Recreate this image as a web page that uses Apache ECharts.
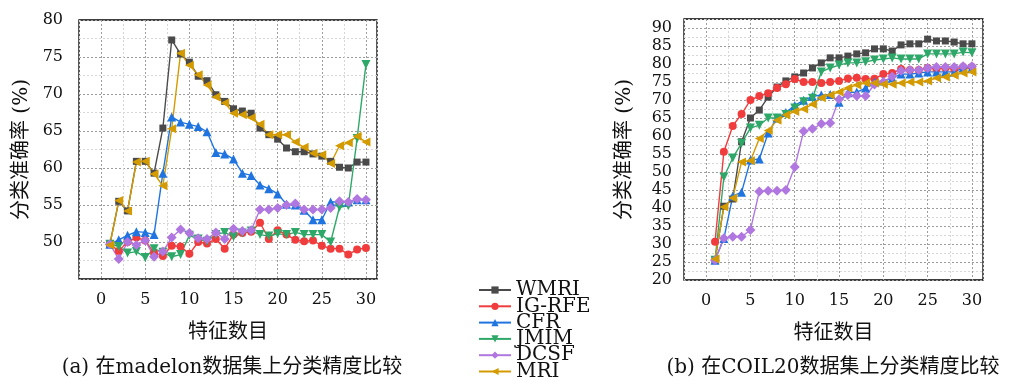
<!DOCTYPE html>
<html>
<head>
<meta charset="utf-8">
<script src="https://cdn.jsdelivr.net/npm/echarts@6/dist/echarts.min.js"></script>
<style>
  html, body { margin: 0; padding: 0; background: #fff; }
  #chart { width: 1013px; height: 381px; }
</style>
</head>
<body>
<div id="chart"></div>
<script>
// feature counts on the x axis
const featureCounts = [1, 2, 3, 4, 5, 6, 7, 8, 9, 10, 11, 12, 13, 14, 15,
  16, 17, 18, 19, 20, 21, 22, 23, 24, 25, 26, 27, 28, 29, 30]
const methodNames = ['WMRI', 'IG-RFE', 'CFR', 'JMIM', 'DCSF', 'MRI']

// tick labels
const xTicks = [0, 5, 10, 15, 20, 25, 30]
const madelonYTicks = [50, 55, 60, 65, 70, 75, 80]
const coilYTicks = [20, 25, 30, 35, 40, 45, 50, 55, 60, 65, 70, 75, 80, 85, 90]

// (a) madelon
const madelonWMRI = [49.7, 55.5, 54.2, 60.9, 60.9, 59.3, 65.4, 77.3, 75.4, 74.3, 72.4, 71.8, 69.9, 69.0, 68.0,
  67.7, 67.4, 65.4, 64.5, 63.9, 62.7, 62.2, 62.2, 61.9, 61.6, 60.9, 60.1, 60.0, 60.8, 60.8]
const madelonIGRFE = [49.7, 48.8, 50.0, 50.6, 50.2, 48.5, 48.1, 49.5, 49.4, 48.4, 50.0, 49.8, 50.4, 49.1, 51.0,
  51.2, 51.4, 52.6, 50.4, 51.6, 51.0, 50.3, 50.1, 50.2, 49.5, 49.1, 49.1, 48.3, 49.0, 49.2]
const madelonCFR = [49.7, 50.3, 50.9, 51.4, 51.3, 51.0, 59.3, 66.9, 66.2, 65.9, 65.6, 64.9, 62.1, 61.9, 61.2,
  59.3, 59.0, 57.7, 57.2, 56.5, 55.1, 55.0, 54.3, 53.0, 53.0, 55.4, 55.4, 55.4, 55.7, 55.7]
const madelonJMIM = [49.7, 49.4, 48.5, 48.7, 47.9, 49.1, 48.6, 48.0, 48.3, 50.9, 50.4, 50.1, 51.0, 51.3, 50.7,
  51.2, 51.5, 51.0, 50.8, 51.1, 51.0, 51.3, 51.0, 51.0, 51.0, 50.0, 54.7, 54.9, 64.0, 74.0]
const madelonDCSF = [49.7, 47.7, 50.0, 49.6, 50.2, 48.0, 48.7, 50.6, 51.7, 51.2, 50.5, 50.4, 51.3, 50.4, 51.8,
  51.5, 51.6, 54.4, 54.4, 54.6, 55.0, 55.2, 54.4, 54.4, 54.4, 54.6, 55.5, 55.4, 55.8, 55.7]
const madelonMRI = [49.6, 55.6, 54.2, 60.8, 60.9, 59.2, 57.6, 65.3, 75.5, 73.9, 72.6, 71.2, 69.6, 68.8, 67.4,
  67.2, 66.8, 65.9, 64.5, 64.5, 64.5, 63.5, 62.8, 62.0, 61.8, 60.6, 63.0, 63.4, 64.3, 63.5]

// (b) COIL20
const coilWMRI = [25.5, 40.5, 42.5, 58.4, 65.0, 67.2, 70.8, 73.6, 75.3, 76.4, 77.5, 78.9, 80.3, 81.7, 81.7,
  82.2, 82.8, 83.1, 84.2, 84.2, 83.6, 85.3, 85.6, 85.6, 86.9, 86.4, 86.4, 86.1, 85.6, 85.6]
const coilIGRFE = [30.6, 55.6, 62.8, 66.1, 70.0, 71.1, 71.9, 73.3, 74.4, 75.8, 75.0, 75.0, 74.7, 75.0, 75.3,
  76.0, 76.2, 75.8, 75.9, 77.2, 77.5, 78.6, 78.3, 78.3, 78.9, 78.6, 78.9, 78.6, 79.2, 79.2]
const coilCFR = [25.5, 31.5, 43.3, 44.4, 53.3, 53.6, 60.8, 65.0, 66.5, 68.5, 69.9, 71.0, 71.4, 71.5, 69.4,
  72.0, 72.2, 73.3, 75.0, 75.3, 76.1, 77.2, 77.2, 77.5, 77.8, 77.8, 77.8, 77.8, 78.9, 78.9]
const coilJMIM = [25.5, 48.6, 53.9, 58.0, 62.2, 63.0, 65.0, 65.0, 66.0, 67.8, 69.5, 70.5, 77.8, 78.9, 79.7,
  80.3, 80.3, 80.6, 81.1, 81.4, 81.7, 81.4, 81.4, 81.4, 82.8, 82.8, 82.8, 82.8, 83.3, 83.1]
const coilDCSF = [25.5, 31.6, 32.0, 32.0, 33.9, 44.6, 44.8, 44.8, 45.0, 51.4, 61.3, 62.0, 63.4, 63.6, 70.2,
  71.4, 71.1, 71.1, 74.3, 75.0, 76.5, 78.1, 78.3, 78.3, 78.9, 79.2, 79.2, 79.2, 79.4, 79.4]
const coilMRI = [25.8, 40.3, 42.8, 52.8, 53.1, 59.3, 61.5, 64.4, 65.8, 66.8, 67.5, 68.8, 70.6, 71.4, 72.2,
  73.3, 74.2, 74.7, 74.7, 74.4, 74.4, 74.7, 75.0, 75.0, 75.3, 76.1, 76.4, 76.9, 77.5, 77.8]

const madelonData = [madelonWMRI, madelonIGRFE, madelonCFR, madelonJMIM, madelonDCSF, madelonMRI]
const coilData = [coilWMRI, coilIGRFE, coilCFR, coilJMIM, coilDCSF, coilMRI]

const colors = ['#4a4a4a', '#f03c3c', '#1f74e0', '#2ea868', '#b077e0', '#d49b00']
const symbols = ['rect', 'circle', 'triangle', 'triangle', 'diamond', 'triangle']
const rotates = [0, 0, 0, 180, 0, 90]
const sizes = [7, 8, 9, 9, 10, 9]

const serif = "'DejaVu Serif', 'Noto Sans CJK SC'"
const cjk = "'Noto Sans CJK SC'"
const majorLine = '#9c9c9c'
const minorLine = '#d6d6d6'

function xAxisFor (gridIndex) {
  return {
    type: 'value',
    gridIndex,
    min: -2.5,
    max: 31.25,
    interval: 2.5,
    name: '特征数目',
    nameLocation: 'middle',
    nameGap: 41,
    nameTextStyle: { fontFamily: cjk, fontSize: 20, color: '#111' },
    axisLine: { show: false },
    axisTick: { show: false },
    axisLabel: {
      margin: 13,
      fontFamily: serif,
      fontSize: 16,
      color: '#111',
      showMinLabel: true,
      showMaxLabel: true,
      formatter: (v) => xTicks.indexOf(v) >= 0 ? String(v) : ''
    },
    splitLine: {
      show: true,
      showMinLine: true,
      showMaxLine: true,
      lineStyle: { color: [minorLine, majorLine], type: [2, 2], width: 1 }
    }
  }
}

function yAxisFor (gridIndex, min, max, ticks, nameGap, margin) {
  return {
    type: 'value',
    gridIndex,
    min,
    max,
    interval: 2.5,
    name: '分类准确率 (%)',
    nameLocation: 'middle',
    nameGap,
    nameTextStyle: { fontFamily: serif, fontSize: 20, color: '#111' },
    axisLine: { show: false },
    axisTick: { show: false },
    axisLabel: {
      margin,
      fontFamily: serif,
      fontSize: 16,
      color: '#111',
      showMinLabel: true,
      showMaxLabel: true,
      formatter: (v) => ticks.indexOf(v) >= 0 ? String(v) : ''
    },
    splitLine: {
      show: true,
      showMinLine: true,
      showMaxLine: true,
      lineStyle: { color: [majorLine, minorLine], type: [2, 2], width: 1 }
    }
  }
}

function seriesFor (data, gridIndex) {
  return methodNames.map((name, i) => ({
    name,
    type: 'line',
    xAxisIndex: gridIndex,
    yAxisIndex: gridIndex,
    data: featureCounts.map((x, k) => [x, data[i][k]]),
    symbol: symbols[i],
    symbolRotate: rotates[i],
    symbolSize: sizes[i],
    showAllSymbol: true,
    color: colors[i],
    lineStyle: { width: 1.4, color: colors[i] },
    itemStyle: { color: colors[i] },
    animation: false
  }))
}

const chart = echarts.init(document.getElementById('chart'), null, { renderer: 'canvas' })

const option = {
  backgroundColor: '#fff',
  animation: false,
  grid: [
    { left: 79, top: 20, width: 298, height: 259, show: true, borderColor: '#000', borderWidth: 1.3, backgroundColor: 'transparent' },
    { left: 684, top: 19, width: 299, height: 261, show: true, borderColor: '#000', borderWidth: 1.3, backgroundColor: 'transparent' }
  ],
  xAxis: [xAxisFor(0), xAxisFor(1)],
  yAxis: [
    yAxisFor(0, 45, 80, madelonYTicks, 47, 16),
    yAxisFor(1, 20, 92.5, coilYTicks, 49, 12)
  ],
  legend: {
    orient: 'vertical',
    left: 478,
    top: 280,
    height: 120,
    padding: 0,
    itemWidth: 32,
    itemHeight: 9,
    itemGap: -3.7,
    data: methodNames,
    textStyle: { fontFamily: serif, fontSize: 20, color: '#111' }
  },
  graphic: [
    {
      type: 'text',
      style: { text: '(a) 在madelon数据集上分类精度比较', font: "20px 'DejaVu Serif', 'Noto Sans CJK SC'", fill: '#111', textAlign: 'center', textVerticalAlign: 'middle', x: 232, y: 368 }
    },
    {
      type: 'text',
      style: { text: '(b) 在COIL20数据集上分类精度比较', font: "20px 'DejaVu Serif', 'Noto Sans CJK SC'", fill: '#111', textAlign: 'center', textVerticalAlign: 'middle', x: 833, y: 368 }
    }
  ],
  series: seriesFor(madelonData, 0).concat(seriesFor(coilData, 1))
}

chart.setOption(option)
</script>
</body>
</html>
